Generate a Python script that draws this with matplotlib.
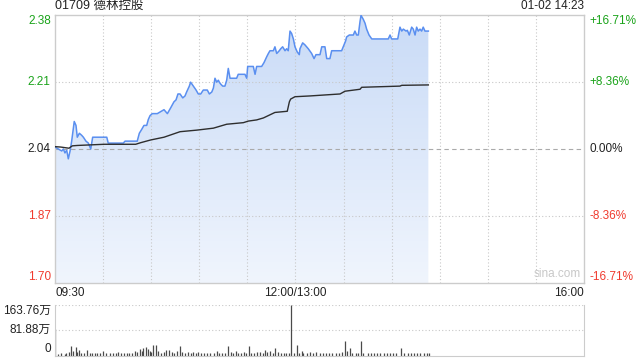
import numpy as np
import matplotlib
matplotlib.use("Agg")
import matplotlib.pyplot as plt
from matplotlib.patches import Polygon
import matplotlib.transforms as mtransforms

plt.rcParams['font.family'] = ['Liberation Sans', 'Noto Sans CJK SC', 'DejaVu Sans']

# trading minutes from 09:30 (lunch removed, 150 = 12:00/13:00, 330 = 16:00)
price_min = [0, 2.1, 4.2, 5.2, 6.2, 7.3, 8.3, 9.4, 10.4, 11.4, 12.0, 13.1, 13.9, 15.2, 16.6,
             17.7, 19.3, 20.8, 22.3, 23.5, 32.3, 33.2, 42.6, 43.7, 51.3, 52.6, 54.1, 55.5,
             57.2, 58.2, 59.3, 60.7, 63.8, 68.0, 70.1, 72.2, 74.2, 75.5, 76.7, 78.0, 79.7,
             81.1, 82.1, 83.8, 84.6, 86.3, 88.0, 89.4, 90.9, 92.5, 95.0, 96.3, 97.8, 98.8,
             99.8, 100.9, 101.9, 102.5, 103.4, 104.6, 106.0, 107.1, 108.1, 109.2, 113.3,
             114.3, 118.5, 119.6, 120.2, 123.7, 124.8, 125.8, 128.9, 130.4, 132.1, 133.1,
             134.1, 136.2, 137.2, 138.3, 139.9, 140.8, 142.0, 143.5, 144.5, 145.5, 146.6,
             147.6, 148.7, 149.7, 151.1, 152.4, 152.8, 154.5, 155.9, 158.0, 160.1, 161.6,
             162.8, 165.3, 166.4, 168.4, 169.5, 171.5, 172.6, 178.8, 179.8, 181.3, 181.9,
             183.6, 186.1, 187.1, 188.2, 189.2, 190.3, 190.9, 192.3, 193.4, 194.4, 195.9,
             197.6, 207.9, 209.0, 210.0, 213.8, 215.2, 216.3, 217.3, 219.0, 219.8, 221.0,
             222.5, 223.5, 224.6, 225.6, 226.6, 227.7, 228.7, 229.7, 230.8, 232.9]
price = [2.045, 2.04, 2.035, 2.04, 2.03, 2.037, 2.015, 2.035, 2.06, 2.09, 2.11, 2.10, 2.07,
         2.08, 2.075, 2.07, 2.06, 2.055, 2.04, 2.07, 2.07, 2.055, 2.055, 2.06, 2.06, 2.08,
         2.09, 2.10, 2.10, 2.115, 2.125, 2.13, 2.13, 2.14, 2.13, 2.145, 2.16, 2.165, 2.18,
         2.18, 2.17, 2.175, 2.185, 2.20, 2.21, 2.20, 2.19, 2.18, 2.18, 2.19, 2.19, 2.18,
         2.185, 2.195, 2.22, 2.21, 2.215, 2.21, 2.205, 2.20, 2.20, 2.215, 2.245, 2.22, 2.22,
         2.23, 2.23, 2.22, 2.25, 2.25, 2.23, 2.25, 2.25, 2.26, 2.275, 2.283, 2.29, 2.29,
         2.30, 2.283, 2.29, 2.295, 2.30, 2.29, 2.295, 2.29, 2.34, 2.334, 2.32, 2.30, 2.287,
         2.28, 2.295, 2.31, 2.305, 2.295, 2.283, 2.27, 2.28, 2.28, 2.30, 2.30, 2.27, 2.27,
         2.29, 2.29, 2.30, 2.315, 2.325, 2.33, 2.33, 2.34, 2.33, 2.33, 2.365, 2.38, 2.37,
         2.36, 2.345, 2.33, 2.32, 2.32, 2.33, 2.32, 2.32, 2.35, 2.34, 2.345, 2.34, 2.342,
         2.33, 2.35, 2.345, 2.33, 2.35, 2.34, 2.345, 2.34, 2.35, 2.34, 2.34]

avg_min = [0, 3.5, 8.7, 10.8, 13.9, 30.6, 50.3, 53.4, 59.7, 68.0, 78.0, 88.4, 98.8, 107.1,
           117.5, 120.6, 125.8, 130.0, 137.2, 144.9, 146.2, 147.0, 149.7, 159.1, 177.8,
           180.9, 190.3, 191.3, 215.2, 216.3, 232.9]
avg_price = [2.046, 2.045, 2.042, 2.048, 2.049, 2.052, 2.052, 2.056, 2.063, 2.07, 2.084,
             2.088, 2.093, 2.103, 2.107, 2.111, 2.114, 2.119, 2.133, 2.136, 2.16, 2.167,
             2.173, 2.175, 2.18, 2.187, 2.192, 2.197, 2.20, 2.202, 2.203]

vol_min = [0, 2, 4, 6, 7, 9, 10, 11, 13, 14, 15, 16, 18, 20, 22, 23, 25, 26, 28, 30, 32, 34,
           36, 38, 39, 41, 43, 45, 46, 48, 50, 51, 53, 54, 55, 57, 58, 59, 60, 61, 63, 64,
           66, 68, 69, 71, 73, 74, 76, 78, 79, 81, 83, 85, 86, 88, 89, 91, 93, 95, 97, 99,
           101, 102, 104, 106, 108, 110, 111, 113, 114, 116, 118, 119, 121, 122, 124, 126,
           128, 130, 131, 132, 134, 136, 137, 139, 141, 143, 144, 146, 147, 149, 151, 152,
           154, 155, 157, 159, 161, 163, 165, 167, 169, 171, 173, 175, 177, 179, 181, 182,
           184, 185, 188, 189, 191, 192, 195, 197, 199, 201, 203, 205, 207, 209, 211, 213,
           216, 218, 220, 222, 224, 226, 228, 230, 232, 233]
vol = [84.6, 4.3, 6.5, 5.4, 6.5, 11.9, 30.4, 15.2, 28.2, 11.9, 17.4, 8.7, 8.7, 17.4, 6.5,
       8.7, 7.6, 7.6, 8.7, 15.2, 6.5, 7.6, 6.5, 8.7, 11.9, 7.6, 6.5, 8.7, 6.5, 8.7, 13.0,
       10.8, 19.5, 15.2, 22.8, 28.2, 19.5, 15.2, 10.8, 33.6, 32.5, 15.2, 8.7, 10.8, 17.4,
       17.4, 11.9, 8.7, 13.0, 30.4, 10.8, 7.6, 10.8, 8.7, 10.8, 8.7, 11.9, 6.5, 7.6, 6.5,
       8.7, 7.6, 14.1, 8.7, 6.5, 8.7, 30.4, 11.9, 8.7, 13.0, 7.6, 8.7, 9.8, 7.6, 30.4, 7.6,
       8.7, 9.8, 10.8, 7.6, 17.4, 10.8, 14.1, 8.7, 23.9, 10.8, 7.6, 8.7, 7.6, 7.6, 163.76,
       7.6, 33.6, 7.6, 13.0, 7.6, 8.7, 10.8, 7.6, 10.8, 6.5, 7.6, 6.5, 7.6, 6.5, 7.6, 8.7,
       10.8, 46.6, 13.0, 23.9, 8.7, 7.6, 8.7, 46.6, 7.6, 6.5, 7.6, 6.5, 7.6, 6.5, 7.6, 6.5,
       7.6, 6.5, 7.6, 23.0, 7.6, 6.5, 7.6, 6.5, 6.5, 6.5, 6.5, 6.5, 6.5]

prev_close = 2.04
y_ticks = [2.38, 2.21, 2.04, 1.87, 1.70]
y_labels = ['2.38', '2.21', '2.04', '1.87', '1.70']
pct_labels = ['+16.71%', '+8.36%', '0.00%', '-8.36%', '-16.71%']
vol_ticks = [163.76, 81.88, 0]
vol_labels = ['163.76万', '81.88万', '0']

GREEN = '#1aa31a'
RED = '#f03a2e'
GRID = '#c8c8c8'

fig = plt.figure(figsize=(6.4, 3.6), dpi=100)
ax = fig.add_axes([55/640, 1-283/360, 529/640, 268/360])
axv = fig.add_axes([55/640, 1-355.5/360, 529/640, 50.5/360])

ymin, ymax = prev_close - 0.3409, prev_close + 0.3409
ax.set_xlim(0, 330)
ax.set_ylim(ymin, ymax)

# gradient fill under price
xs = np.array(price_min)
ys = np.array(price)
poly = Polygon(np.column_stack([np.r_[xs, xs[-1], xs[0]], np.r_[ys, ymin, ymin]]),
               closed=True, facecolor='none', edgecolor='none')
ax.add_patch(poly)
grad = np.linspace(0, 1, 256).reshape(-1, 1)
cmap = matplotlib.colors.LinearSegmentedColormap.from_list('g', ['#f0f5fd', '#c9dbf7'])
im = ax.imshow(grad, extent=[0, 330, ymin, ymax], origin='lower', aspect='auto',
               cmap=cmap, zorder=1)
im.set_clip_path(poly)

ax.plot(price_min, price, color='#5a8ff0', lw=1.1, zorder=3)
ax.plot(avg_min, avg_price, color='#2e2e2e', lw=1.0, zorder=3)

for t in range(30, 330, 30):
    ax.axvline(t, color=GRID, lw=0.8, ls=(0, (1, 2)), zorder=2)
for v in [2.21, 1.87]:
    ax.axhline(v, color=GRID, lw=0.8, ls=(0, (1, 2)), zorder=2)
ax.axhline(prev_close, color='#aaaaaa', lw=0.8, ls=(0, (4, 3)), zorder=2)

ax.set_xticks([])
ax.set_yticks([])
for s in ax.spines.values():
    s.set_color('#cccccc')
    s.set_linewidth(1)

trans_l = mtransforms.blended_transform_factory(ax.transAxes, ax.transData)
colors = [GREEN, GREEN, '#222222', RED, RED]
vas = ['top', 'center', 'center', 'center', 'bottom']
for i, v in enumerate(y_ticks):
    yv = min(max(v, ymin), ymax)
    ax.text(-0.008, yv, y_labels[i], transform=trans_l, ha='right', va=vas[i],
            color=colors[i], fontsize=8.5)
    ax.text(1.011, yv, pct_labels[i], transform=trans_l, ha='left', va=vas[i],
            color=colors[i], fontsize=8.5)

ax.text(0, -0.015, '09:30', transform=ax.transAxes, ha='left', va='top', fontsize=8.5, color='#222222')
ax.text(150/330, -0.015, '12:00/13:00', transform=ax.transAxes, ha='center', va='top', fontsize=8.5, color='#222222')
ax.text(1, -0.015, '16:00', transform=ax.transAxes, ha='right', va='top', fontsize=8.5, color='#222222')
ax.text(0.995, 0.012, 'sina.com', transform=ax.transAxes, ha='right', va='bottom', fontsize=8.5, color='#c8c8c8')

ax.text(0, 1.012, '01709 德林控股', transform=ax.transAxes, ha='left', va='bottom', fontsize=9, color='#222222')
ax.text(1, 1.012, '01-02 14:23', transform=ax.transAxes, ha='right', va='bottom', fontsize=8.5, color='#222222')

# volume
axv.set_xlim(0, 330)
axv.set_ylim(0, 163.76)
axv.vlines(vol_min, 0, vol, color='#4a4a4a', lw=0.9)
axv.axhline(81.88, color=GRID, lw=0.8, ls=(0, (1, 2)))
axv.axhline(163.76, color=GRID, lw=0.8, ls=(0, (1, 2)))
axv.set_xticks([])
axv.set_yticks([])
axv.spines['top'].set_visible(False)
for k in ['left', 'right', 'bottom']:
    axv.spines[k].set_color('#cccccc')
trans_v = mtransforms.blended_transform_factory(axv.transAxes, axv.transData)
for v, lab, va in zip(vol_ticks, vol_labels, ['top', 'center', 'bottom']):
    axv.text(-0.008, v, lab, transform=trans_v, ha='right', va=va, fontsize=8.5, color='#222222')

fig.savefig('out.png', dpi=100)
